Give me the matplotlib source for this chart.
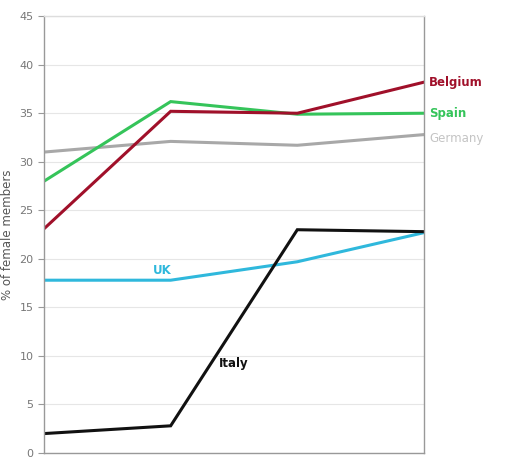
import matplotlib
matplotlib.use("Agg")
import matplotlib.pyplot as plt

# ── Data ──────────────────────────────────────────────────────────────────────
periods = [0, 1, 2, 3]
belgium = [23.1, 35.2, 35.0, 38.2]
spain   = [28.0, 36.2, 34.9, 35.0]
germany = [31.0, 32.1, 31.7, 32.8]
uk      = [17.8, 17.8, 19.7, 22.7]
italy   = [2.0, 2.8, 23.0, 22.8]
y_ticks = [0, 5, 10, 15, 20, 25, 30, 35, 40, 45]

C_BEL = "#a0102a"
C_ESP = "#35c45a"
C_GER = "#a8a8a8"
C_UK  = "#2fb8dc"
C_ITA = "#111111"

fig = plt.figure(figsize=(5.12, 4.62), dpi=100, facecolor="white")
ax = fig.add_axes([0.086, 0.0195, 0.742, 0.9455])

for vals, col in [(germany, C_GER), (uk, C_UK), (italy, C_ITA),
                  (spain, C_ESP), (belgium, C_BEL)]:
    ax.plot(periods, vals, color=col, linewidth=2.2, solid_joinstyle="miter")

ax.set_xlim(0, 3)
ax.set_ylim(0, 45)
ax.set_yticks(y_ticks)
ax.set_xticks([])
ax.grid(axis="y", color="#e6e6e6", linewidth=0.8)
ax.set_axisbelow(True)
for s in ax.spines.values():
    s.set_color("#999999")
    s.set_linewidth(1.0)
ax.spines["top"].set_color("#dddddd")
ax.tick_params(axis="y", colors="#777777", labelsize=8, length=4, color="#999999")
ax.set_ylabel("% of female members", fontsize=8.5, color="#555555")
ax.yaxis.set_label_coords(-0.078, 0.5)

# series labels
ax.text(3.04, belgium[-1], "Belgium", color=C_BEL, fontsize=8.5, fontweight="bold",
        va="center", clip_on=False)
ax.text(3.04, spain[-1], "Spain", color=C_ESP, fontsize=8.5, fontweight="bold",
        va="center", clip_on=False)
ax.text(3.04, 32.4, "Germany", color="#c4c4c4", fontsize=8.5,
        va="center", clip_on=False)
ax.text(0.86, 18.8, "UK", color=C_UK, fontsize=8.5, fontweight="bold", va="center")
ax.text(1.38, 9.2, "Italy", color=C_ITA, fontsize=8.5, fontweight="bold", va="center")

fig.savefig("out.png", dpi=100, facecolor="white")
